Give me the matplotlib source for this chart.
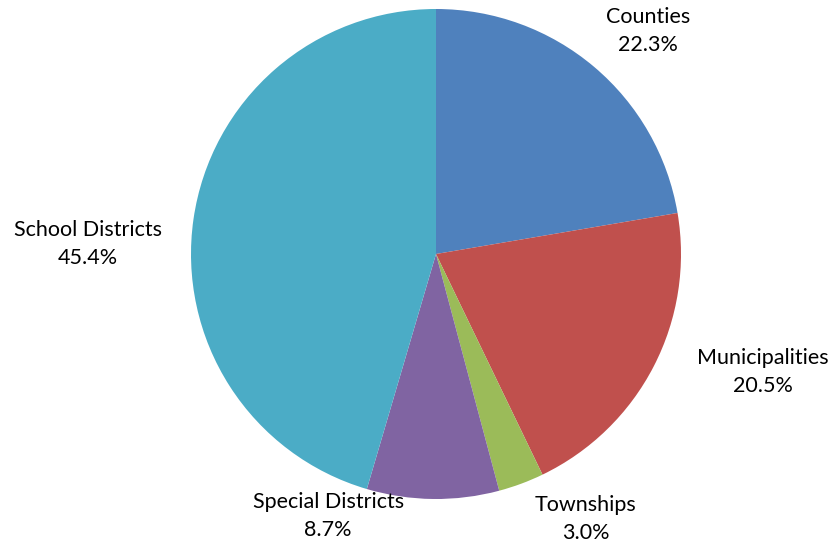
import matplotlib
matplotlib.use("Agg")
import matplotlib.pyplot as plt

categories = ["Counties", "Municipalities", "Townships", "Special Districts", "School Districts"]
shares = [22.3, 20.5, 3.0, 8.7, 45.4]
colors = ["#4F81BD", "#C0504D", "#9BBB59", "#8064A2", "#4BACC6"]

# label anchor points, in units of the pie radius
label_xy = [(0.865, 0.91), (1.335, -0.48), (0.61, -1.08), (-0.44, -1.07), (-1.42, 0.04)]

plt.rcParams["font.family"] = ["Lato", "DejaVu Sans"]

fig = plt.figure(figsize=(8.34, 5.48), dpi=100)
ax = fig.add_axes([0, 0, 1, 1])

ax.pie(shares, colors=colors, startangle=90, counterclock=False,
       radius=1.0, center=(0, 0), wedgeprops=dict(linewidth=0))

for name, val, (x, y) in zip(categories, shares, label_xy):
    ax.text(x, y, f"{name}\n{val:.1f}%", ha="center", va="center",
            fontsize=15.5, linespacing=1.5, color="black")

# 245 px per radius unit, pie centre at (436, 254) px from top-left
scale = 245.0
ax.set_aspect("auto")
ax.set_xlim(-436 / scale, (834 - 436) / scale)
ax.set_ylim(-(548 - 254) / scale, 254 / scale)
ax.axis("off")

fig.savefig("out.png", dpi=100)
